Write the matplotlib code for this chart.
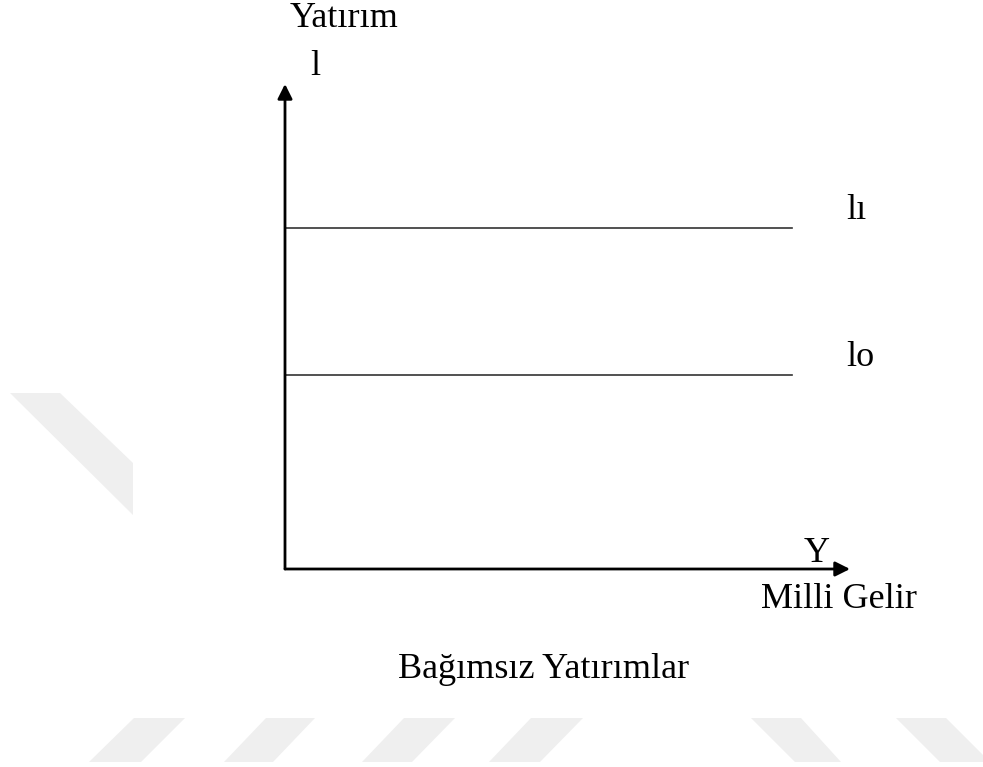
"""plot.py — Bağımsız yatırımlar (autonomous investment) diagram."""

import matplotlib
matplotlib.use('Agg')
import matplotlib.pyplot as plt
from matplotlib.patches import Polygon

W, H = 983, 767

# ── Data ──────────────────────────────────────────────────────────────────────
LEVEL_LABELS = ['lo', 'lı']
LEVELS       = [4.0, 7.03]      # investment levels (axis units 0..10)
LINE_END     = 8.98             # horizontal lines stop before arrow tip

X_LABEL = 'Milli Gelir'
Y_LABEL = 'Yatırım'
TITLE   = 'Bağımsız Yatırımlar'

plt.rcParams.update({
    'font.family': ['Liberation Serif', 'DejaVu Serif'],
    'font.size':   26,
})


def px(x, y):
    """Pixel position -> figure fraction."""
    return x / W, 1 - y / H


# light grey watermark stripes (pixel outlines)
WATERMARK = [
    [(134, 718), (185, 718), (141, 762), (89, 762)],
    [(266, 718), (315, 718), (273, 762), (224, 762)],
    [(404, 718), (455, 718), (412, 762), (362, 762)],
    [(531, 718), (583, 718), (540, 762), (489, 762)],
    [(751, 718), (801, 718), (841, 762), (795, 762)],
    [(896, 718), (946, 718), (990, 762), (940, 762)],
    [(10, 393), (60, 393), (133, 463), (133, 515)],
]

fig = plt.figure(figsize=(W / 100, H / 100), dpi=100)
for poly in WATERMARK:
    fig.patches.append(Polygon([px(*p) for p in poly], closed=True,
                               transform=fig.transFigure,
                               facecolor='#efefef', edgecolor='none',
                               zorder=0))

# axes: origin at (285, 569) px, arrow tips at x=850 px, y=84 px
x0, y0 = px(285, 569)
x1, y1 = px(850, 84)
ax = fig.add_axes([x0, y0, x1 - x0, y1 - y0])
ax.set_xlim(0, 10)
ax.set_ylim(0, 10)
ax.axis('off')
ax.patch.set_alpha(0)

arrow = dict(arrowstyle='-|>', color='black', lw=2.0, mutation_scale=22,
             shrinkA=0, shrinkB=0)
ax.annotate('', xy=(10, 0), xytext=(0, 0), arrowprops=arrow)
ax.annotate('', xy=(0, 10), xytext=(0, 0), arrowprops=arrow)

for lvl in LEVELS:
    ax.plot([0, LINE_END], [lvl, lvl], color='#333333', lw=1.2)

# ── Text (centre, baseline) ──────────────────────────────────────────────────
kw = dict(ha='center', va='baseline')
fig.text(*px(344, 27), Y_LABEL, **kw)
fig.text(*px(315, 75), 'l', **kw)
fig.text(*px(860, 366), LEVEL_LABELS[0], **kw)
fig.text(*px(856, 219), LEVEL_LABELS[1], **kw)
fig.text(*px(817, 562), 'Y', **kw)
fig.text(*px(839, 608), X_LABEL, **kw)
fig.text(*px(544, 678), TITLE, **kw)

fig.savefig('out.png', dpi=100)
